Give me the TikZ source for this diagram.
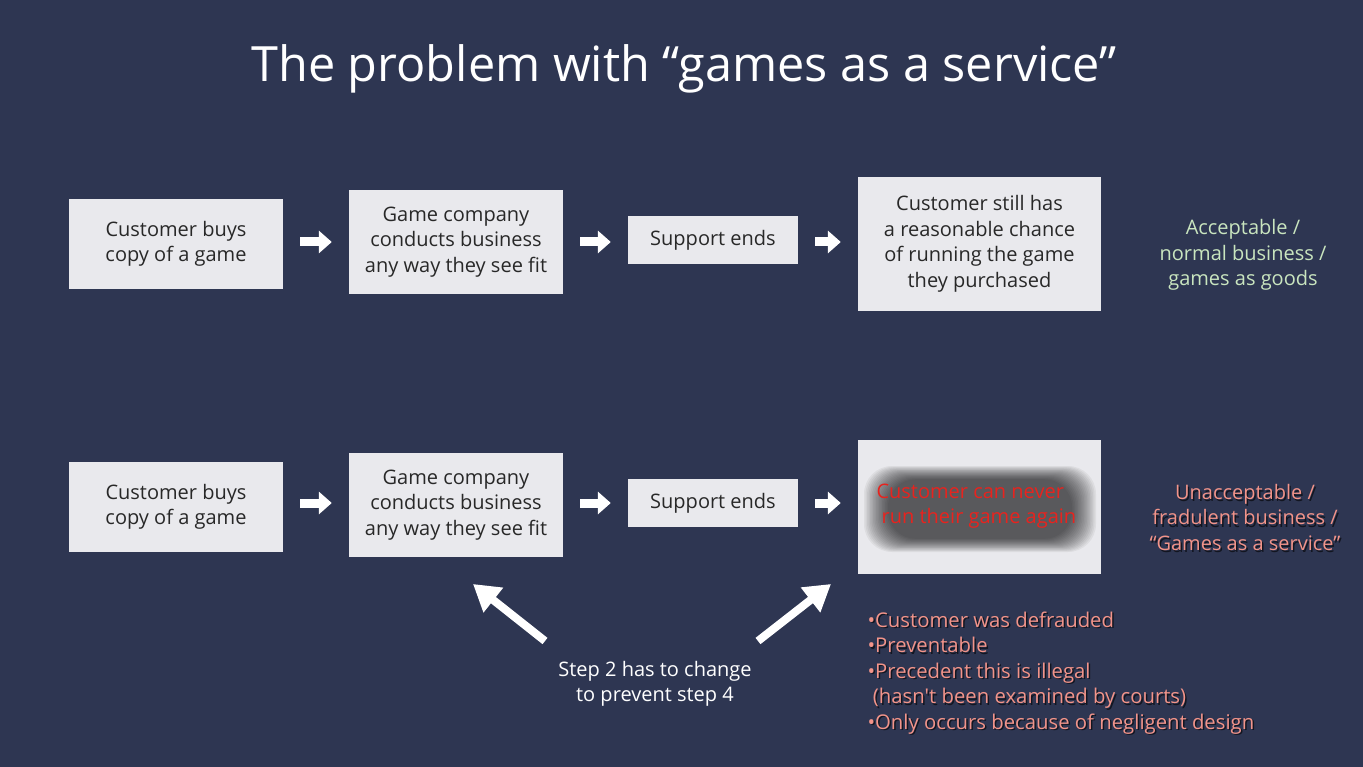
\documentclass[tikz,border=0pt]{standalone}
\usepackage{fontspec}
\setmainfont{Open Sans}
\usetikzlibrary{arrows.meta}
\definecolor{bg}{RGB}{46,54,82}
\definecolor{boxfill}{RGB}{233,233,237}
\definecolor{boxtext}{RGB}{40,40,40}
\definecolor{goodtxt}{RGB}{201,229,191}
\definecolor{badtxt}{RGB}{242,148,138}
\definecolor{redtxt}{RGB}{232,35,30}
\tikzset{
  stepbox/.style={fill=boxfill, draw=none, inner sep=0pt, align=center, text=boxtext,
    font=\fontsize{20}{25.5}\selectfont},
  flow/.style={draw=white, line width=9pt, -{Triangle[length=13pt,width=22pt]}, shorten <=17pt, shorten >=17pt},
  diag/.style={draw=white, line width=8pt, -{Triangle[length=26pt,width=30pt]}},
  verdict/.style={align=center, font=\fontsize{20}{25.5}\selectfont},
  note/.style={align=left, font=\fontsize{20.3}{25.5}\selectfont, text=badtxt},
}
\begin{document}
\begin{tikzpicture}[x=1pt,y=-1pt]
\useasboundingbox[fill=bg] (0,0) rectangle (1363,767);
\node[text=white, font=\fontsize{48.6}{52}\selectfont] (title) at (684,69) {The problem with “games as a service”};

% top row
\node[stepbox, minimum width=214pt, minimum height=90pt] (a1) at (176,244) {Customer buys\\copy of a game};
\node[stepbox, minimum width=214pt, minimum height=104pt] (a2) at (456,242) {Game company\\conducts business\\any way they see fit};
\node[stepbox, minimum width=170pt, minimum height=48pt] (a3) at (713,240) {Support ends};
\node[stepbox, minimum width=243pt, minimum height=134pt] (a4) at (979.5,244) {Customer still has\\a reasonable chance\\of running the game\\they purchased};
\draw[flow] (a1.east |- 0,242) -- (a2.west |- 0,242);
\draw[flow] (a2.east |- 0,242) -- (a3.west |- 0,242);
\draw[flow] (a3.east |- 0,242) -- (a4.west |- 0,242);
\node[verdict, text=goodtxt] (good) at (1243,255) {Acceptable /\\normal business /\\games as goods};

% bottom row
\node[stepbox, minimum width=214pt, minimum height=90pt] (b1) at (176,507) {Customer buys\\copy of a game};
\node[stepbox, minimum width=214pt, minimum height=104pt] (b2) at (456,505) {Game company\\conducts business\\any way they see fit};
\node[stepbox, minimum width=170pt, minimum height=48pt] (b3) at (713,503) {Support ends};
\node[stepbox, minimum width=243pt, minimum height=134pt] (b4) at (979.5,507) {};
\draw[flow] (b1.east |- 0,503) -- (b2.west |- 0,503);
\draw[flow] (b2.east |- 0,503) -- (b3.west |- 0,503);
\draw[flow] (b3.east |- 0,503) -- (b4.west |- 0,503);

% blurred shadow inside box 4
\foreach \d in {0,1.5,...,24} {
  \fill[black, opacity=0.05, rounded corners=28pt] (864+\d,466+\d*0.55) rectangle (1096-\d,552-\d*0.55);
}
\node[align=left, text=redtxt, font=\fontsize{20}{25.5}\selectfont, anchor=west] (b4txt) at (873,506) {Customer can never\\\ run their game again};

% verdict bottom
\node[verdict, text=black, opacity=0.6] at (1246.5,519.5) {Unacceptable /\\fradulent business /\\“Games as a service”};
\node[verdict, text=badtxt] (bad) at (1245,517) {Unacceptable /\\fradulent business /\\“Games as a service”};

% step note and diagonal arrows
\node[align=center, text=white, font=\fontsize{20}{25.5}\selectfont] (step) at (655,684) {Step 2 has to change\\to prevent step 4};
\coordinate (l0) at (545,641);
\coordinate (l1) at (473,584);
\coordinate (r0) at (758,641);
\coordinate (r1) at (831,584);
\draw[diag] (l0) -- (l1);
\draw[diag] (r0) -- (r1);

% notes
\node[note, text=black, opacity=0.6, anchor=north west] at (865.5,609.5) {•Customer was defrauded\\•Preventable\\•Precedent this is illegal\\\ (hasn\textquotesingle t been examined by courts)\\•Only occurs because of negligent design};
\node[note, anchor=north west] (notes) at (864,608) {•Customer was defrauded\\•Preventable\\•Precedent this is illegal\\\ (hasn\textquotesingle t been examined by courts)\\•Only occurs because of negligent design};
\end{tikzpicture}
\end{document}
